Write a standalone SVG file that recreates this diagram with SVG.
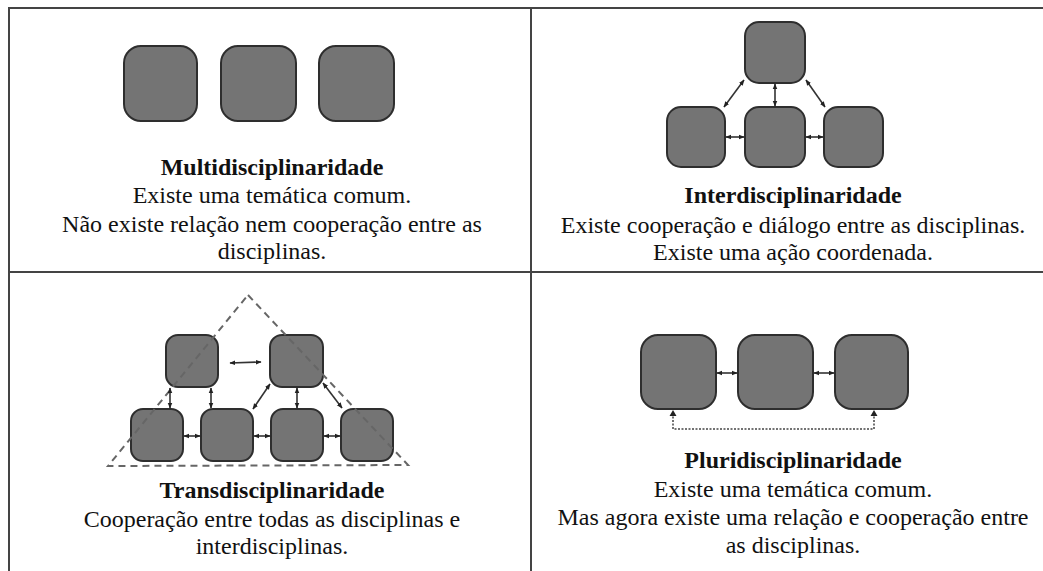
<svg xmlns="http://www.w3.org/2000/svg" width="1043" height="571" viewBox="0 0 1043 571">
<defs>
<marker id="ah" viewBox="0 0 10 10" refX="9" refY="5" markerWidth="6" markerHeight="6" orient="auto-start-reverse" markerUnits="userSpaceOnUse"><path d="M0,1 L10,5 L0,9 z" fill="#222"/></marker>
</defs>
<rect width="1043" height="571" fill="#fff"/>
<g id="table" stroke="#444" stroke-width="2" fill="none">
<line x1="9" y1="8" x2="1043" y2="8"/>
<line x1="9" y1="272" x2="1043" y2="272"/>
<line x1="9" y1="7" x2="9" y2="571"/>
<line x1="531" y1="7" x2="531" y2="571"/>
</g>
<g id="multi" fill="#747474" stroke="#2e2e2e" stroke-width="2">
<rect id="m1" x="124" y="46" width="73" height="75" rx="17"/>
<rect id="m2" x="221" y="46" width="75" height="75" rx="17"/>
<rect id="m3" x="319" y="46" width="75" height="75" rx="17"/>
</g>
<g id="inter" fill="#747474" stroke="#2e2e2e" stroke-width="2">
<rect id="i0" x="745" y="22" width="60" height="61" rx="14"/>
<rect id="i1" x="667" y="107" width="58" height="60" rx="14"/>
<rect id="i2" x="745" y="107" width="60" height="60" rx="14"/>
<rect id="i3" x="824" y="107" width="59" height="60" rx="14"/>
</g>
<g id="trans" fill="#747474" stroke="#2e2e2e" stroke-width="2">
<rect id="tA" x="166" y="335" width="52" height="52" rx="12"/>
<rect id="tB" x="270" y="335" width="53" height="52" rx="12"/>
<rect id="t1" x="131" y="409" width="52" height="52" rx="12"/>
<rect id="t2" x="201" y="409" width="52" height="52" rx="12"/>
<rect id="t3" x="271" y="409" width="52" height="52" rx="12"/>
<rect id="t4" x="341" y="409" width="52" height="52" rx="12"/>
<polygon points="248,295 408,465 108,466" fill="none" stroke="#666" stroke-width="2" stroke-dasharray="7 5"/>
</g>
<g id="pluri" fill="#747474" stroke="#2e2e2e" stroke-width="2">
<rect id="p1" x="641" y="335" width="75" height="74" rx="17"/>
<rect id="p2" x="738" y="335" width="75" height="74" rx="17"/>
<rect id="p3" x="835" y="335" width="73" height="74" rx="17"/>
</g>
<g id="connectors" stroke="#333" stroke-width="1.6" fill="none" marker-start="url(#ah)" marker-end="url(#ah)">
<line x1="744" y1="80" x2="724" y2="107"/>
<line x1="775" y1="84" x2="775" y2="106"/>
<line x1="806" y1="80" x2="825" y2="107"/>
<line x1="726" y1="137" x2="744" y2="137"/>
<line x1="806" y1="137" x2="823" y2="137"/>
<line x1="230" y1="363" x2="261" y2="362"/>
<line x1="170" y1="388" x2="170" y2="408"/>
<line x1="211" y1="388" x2="211" y2="408"/>
<line x1="297" y1="388" x2="297" y2="408"/>
<line x1="270" y1="384" x2="253" y2="409"/>
<line x1="323" y1="383" x2="342" y2="408"/>
<line x1="184" y1="436" x2="200" y2="436"/>
<line x1="254" y1="436" x2="270" y2="436"/>
<line x1="324" y1="436" x2="340" y2="436"/>
<line x1="717" y1="373" x2="737" y2="373"/>
<line x1="814" y1="373" x2="834" y2="373"/>
</g>
<g id="dotted-link">
<path d="M673,413 V429 H874 V413" fill="none" stroke="#444" stroke-width="1.5" stroke-dasharray="2 1.5"/>
<path d="M673,410 l-3.5,6 h7 z M874,410 l-3.5,6 h7 z" fill="#222"/>
</g>
<g id="labels" font-family="Tinos, Times New Roman, Liberation Serif, DejaVu Serif, serif" font-size="24" fill="#111" text-anchor="middle">
<text x="272" y="175" font-weight="bold">Multidisciplinaridade</text>
<text x="272" y="203">Existe uma temática comum.</text>
<text x="272" y="232">Não existe relação nem cooperação entre as</text>
<text x="272" y="259">disciplinas.</text>
<text x="793" y="203" font-weight="bold">Interdisciplinaridade</text>
<text x="793" y="233">Existe cooperação e diálogo entre as disciplinas.</text>
<text x="793" y="260">Existe uma ação coordenada.</text>
<text x="272" y="498" font-weight="bold">Transdisciplinaridade</text>
<text x="272" y="527">Cooperação entre todas as disciplinas e</text>
<text x="272" y="554">interdisciplinas.</text>
<text x="793" y="468" font-weight="bold">Pluridisciplinaridade</text>
<text x="793" y="497">Existe uma temática comum.</text>
<text x="793" y="525">Mas agora existe uma relação e cooperação entre</text>
<text x="793" y="553">as disciplinas.</text>
</g>
</svg>
